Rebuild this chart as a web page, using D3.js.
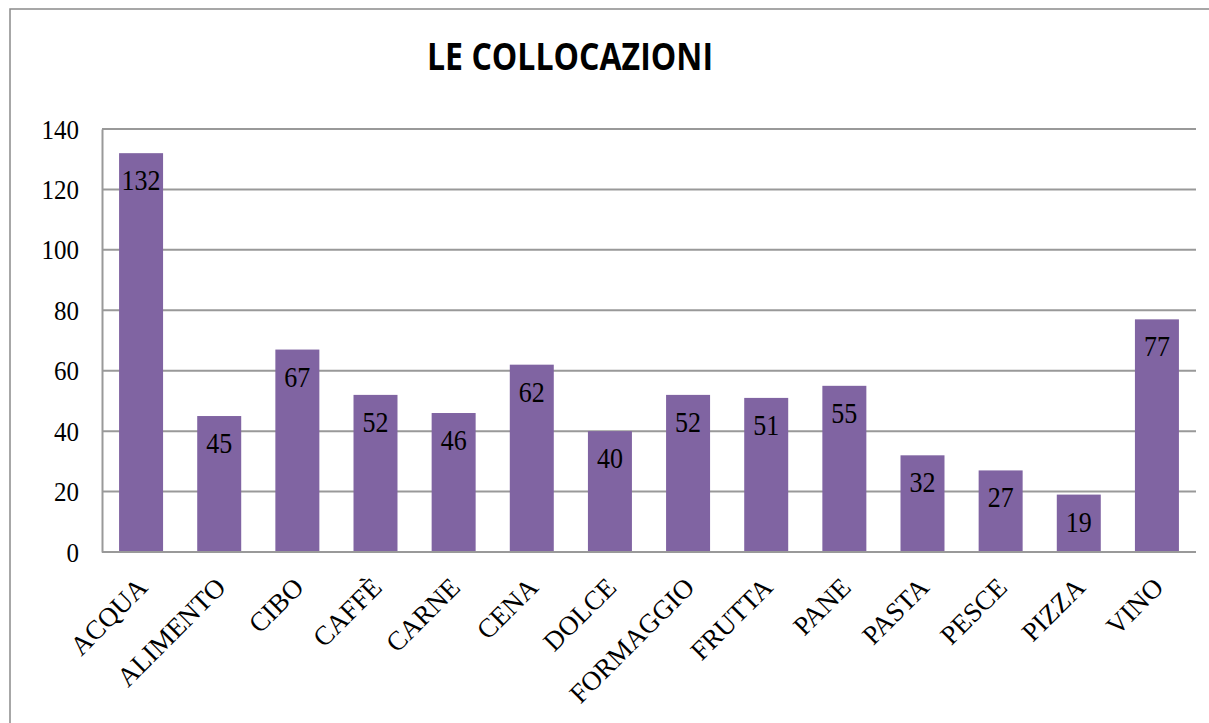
<!DOCTYPE html>
<html>
<head>
<meta charset="utf-8">
<script src="https://cdn.jsdelivr.net/npm/d3@7"></script>
<style>
  body { margin: 0; background: #fff; }
  .tick text { font-family: "Liberation Serif", "Times New Roman", serif; }
</style>
</head>
<body>
<div id="chart"></div>
<script>
// data
var categories = ["ACQUA", "ALIMENTO", "CIBO", "CAFFÈ", "CARNE", "CENA", "DOLCE",
  "FORMAGGIO", "FRUTTA", "PANE", "PASTA", "PESCE", "PIZZA", "VINO"];
var values = [132, 45, 67, 52, 46, 62, 40, 52, 51, 55, 32, 27, 19, 77];
var yTicks = [0, 20, 40, 60, 80, 100, 120, 140];

var svgWidth = 1209;
var svgHeight = 723;

var margin = { top: 129, right: 13, bottom: 171, left: 102 };
var width = svgWidth - margin.left - margin.right;
var height = svgHeight - margin.top - margin.bottom;

var serif = "'Liberation Serif', 'Times New Roman', serif";

var svg = d3.select("#chart")
  .append("svg")
  .attr("width", svgWidth)
  .attr("height", svgHeight);

// outer border
svg.append("rect")
  .attr("x", 10)
  .attr("y", 9)
  .attr("width", 1230)
  .attr("height", 760)
  .attr("fill", "none")
  .attr("stroke", "#8a8a8a")
  .attr("stroke-width", 1.5);

// title
svg.append("text")
  .attr("x", 570)
  .attr("y", 70)
  .attr("text-anchor", "middle")
  .style("font-family", "'Open Sans', 'Liberation Sans', sans-serif")
  .style("font-weight", "bold")
  .style("font-size", "37px")
  .attr("textLength", 286)
  .attr("lengthAdjust", "spacingAndGlyphs")
  .text("LE COLLOCAZIONI");

var chartGroup = svg.append("g")
  .attr("transform", `translate(${margin.left}, ${margin.top})`);

var xScale = d3.scaleBand()
  .domain(categories)
  .range([0, width])
  .paddingInner(0.437)
  .paddingOuter(0.2185);

var yScale = d3.scaleLinear()
  .domain([0, 140])
  .range([height, 0]);

// gridlines
chartGroup.selectAll(".grid")
  .data(yTicks)
  .enter()
  .append("line")
  .attr("x1", 0)
  .attr("x2", width)
  .attr("y1", d => yScale(d))
  .attr("y2", d => yScale(d))
  .attr("stroke", "#999")
  .attr("stroke-width", 2);

// left axis
var leftAxis = d3.axisLeft(yScale).tickValues(yTicks).tickSize(0).tickPadding(23);
var yAxisG = chartGroup.append("g").call(leftAxis);
yAxisG.select(".domain").attr("stroke", "#999").attr("stroke-width", 2);
yAxisG.selectAll(".tick text")
  .style("font-size", "25px")
  .attr("fill", "#000")
  .attr("x", null)
  .attr("dy", null)
  .attr("transform", "translate(-23, 9) scale(1, 1.1)");

// bars
chartGroup.selectAll(".bar")
  .data(values)
  .enter()
  .append("rect")
  .attr("x", (d, i) => xScale(categories[i]))
  .attr("y", d => yScale(d))
  .attr("width", xScale.bandwidth())
  .attr("height", d => height - yScale(d))
  .attr("fill", "#8064a2");

// value labels
chartGroup.selectAll(".val")
  .data(values)
  .enter()
  .append("text")
  .attr("transform", (d, i) => `translate(${xScale(categories[i]) + xScale.bandwidth() / 2}, ${yScale(d) + 37}) scale(1, 1.12)`)
  .attr("text-anchor", "middle")
  .style("font-family", serif)
  .style("font-size", "26px")
  .attr("fill", "#000")
  .text(d => d);

// bottom axis line
chartGroup.append("line")
  .attr("x1", 0)
  .attr("x2", width)
  .attr("y1", height)
  .attr("y2", height)
  .attr("stroke", "#999")
  .attr("stroke-width", 2);

// category labels
chartGroup.selectAll(".cat")
  .data(categories)
  .enter()
  .append("text")
  .attr("transform", d => `translate(${xScale(d) + xScale.bandwidth() / 2 + 8}, ${height + 37}) rotate(-45)`)
  .attr("text-anchor", "end")
  .style("font-family", serif)
  .style("font-size", "27px")
  .attr("fill", "#000")
  .text(d => d);
</script>
</body>
</html>
